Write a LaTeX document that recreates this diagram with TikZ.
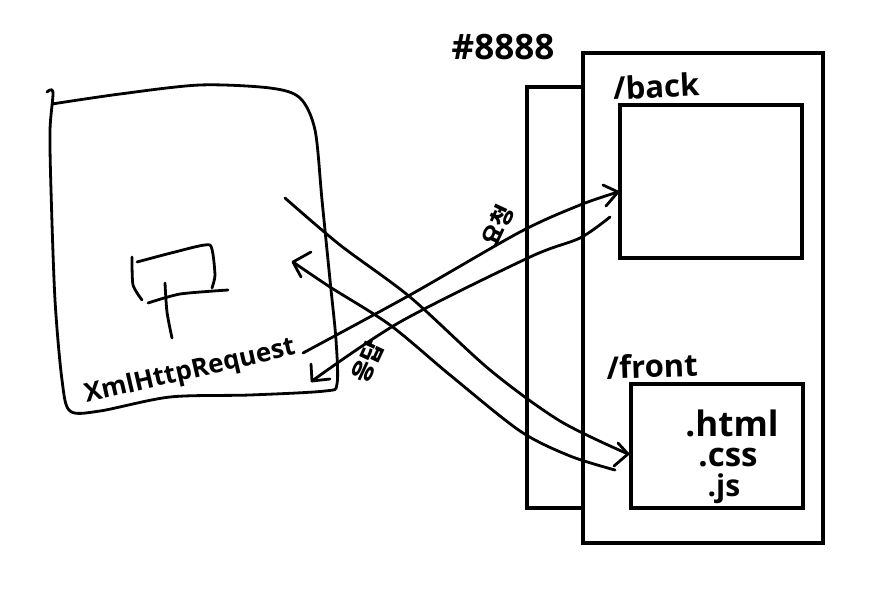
\documentclass[tikz,border=0pt]{standalone}
\usepackage{fontspec}
\setmainfont{Open Sans}
\newfontfamily\krfont{Noto Sans CJK KR}
\tikzset{
  boxthick/.style={draw=black,line width=4.6pt,fill=white,inner sep=0pt,outer sep=0pt},
  pen/.style={draw=black,line width=2.8pt,line cap=round,line join=round},
  scrawl/.style={inner sep=0pt,text=black,font=\fontsize{#1}{#1}\selectfont\bfseries},
  scrawl/.default=24
}
\begin{document}
\begin{tikzpicture}[x=1pt,y=-1pt]
\useasboundingbox (0,0) rectangle (891,604);
\fill[white] (0,0) rectangle (891,604);
% server boxes
\node[boxthick,minimum width=56pt,minimum height=421pt] (narrow) at (555,297.5) {};
\node[boxthick,minimum width=240pt,minimum height=490pt] (server) at (703,298) {};
\node[boxthick,minimum width=182pt,minimum height=153pt] (back) at (711,181.5) {};
\node[boxthick,minimum width=172pt,minimum height=124pt] (front) at (717,446) {};
% browser
\draw[pen] plot[smooth,tension=.5] coordinates {(47,92) (53,92) (50,130) (51,190) (55,300) (62,380) (70,411) (100,411) (170,397) (250,395) (325,391) (337,384) (336,340) (330,280) (322,200) (315,130) (300,98) (270,88) (200,85) (120,94) (52,104)};
% small box
\draw[pen] plot[smooth,tension=.4] coordinates {(132,257) (133,285) (142,300)};
\draw[pen] plot[smooth,tension=.3] coordinates {(137,262) (175,252) (210,245) (215,275) (212,288)};
\draw[pen] plot[smooth,tension=.4] coordinates {(148,303) (180,294) (228,290)};
\coordinate (stemtop) at (165,283);
\node[scrawl=26,rotate=13] (xhr) at (190,372) {XmlHttpRequest};
\draw[pen] plot[smooth] coordinates {(stemtop) (167,312) (172,338)};
% arrows
\coordinate (reqS) at (303,353); \coordinate (reqE) at (618,192);
\draw[pen] plot[smooth] coordinates {(reqS) (410,295) (520,232) (580,205) (reqE)};
\draw[pen] (603,185) -- (reqE) -- (606,206);
\coordinate (resS) at (610,217); \coordinate (resE) at (312,381);
\draw[pen] plot[smooth] coordinates {(resS) (580,238) (530,257) (400,322) (resE)};
\draw[pen] (311,364) -- (resE) -- (330,379);
\coordinate (toS) at (285,198); \coordinate (toE) at (628,454);
\draw[pen] plot[smooth] coordinates {(toS) (340,245) (410,297) (490,370) (560,421) (toE)};
\draw[pen] (618,443) -- (toE) -- (614,466);
\coordinate (frS) at (615,470); \coordinate (frE) at (293,262);
\draw[pen] plot[smooth] coordinates {(frS) (570,456) (520,431) (450,375) (390,325) (330,287) (frE)};
\draw[pen] (311,252) -- (frE) -- (301,277);
% labels
\node[scrawl=35] (addr) at (503,47) {\#8888};
\node[scrawl=31,rotate=3] (lback) at (656,86) {/back};
\node[scrawl=31,rotate=2] (lfront) at (652,366) {/front};
\node[scrawl=35] (html) at (732,423) {.html};
\node[scrawl=33] (css) at (728,458) {.css};
\node[scrawl=30] (js) at (724,489) {.js};
\node[scrawl=23,rotate=65] (ask) at (498,226) {\krfont 요청};
\node[scrawl=23,rotate=65] (ans) at (368,362) {\krfont 응답};
\end{tikzpicture}
\end{document}
